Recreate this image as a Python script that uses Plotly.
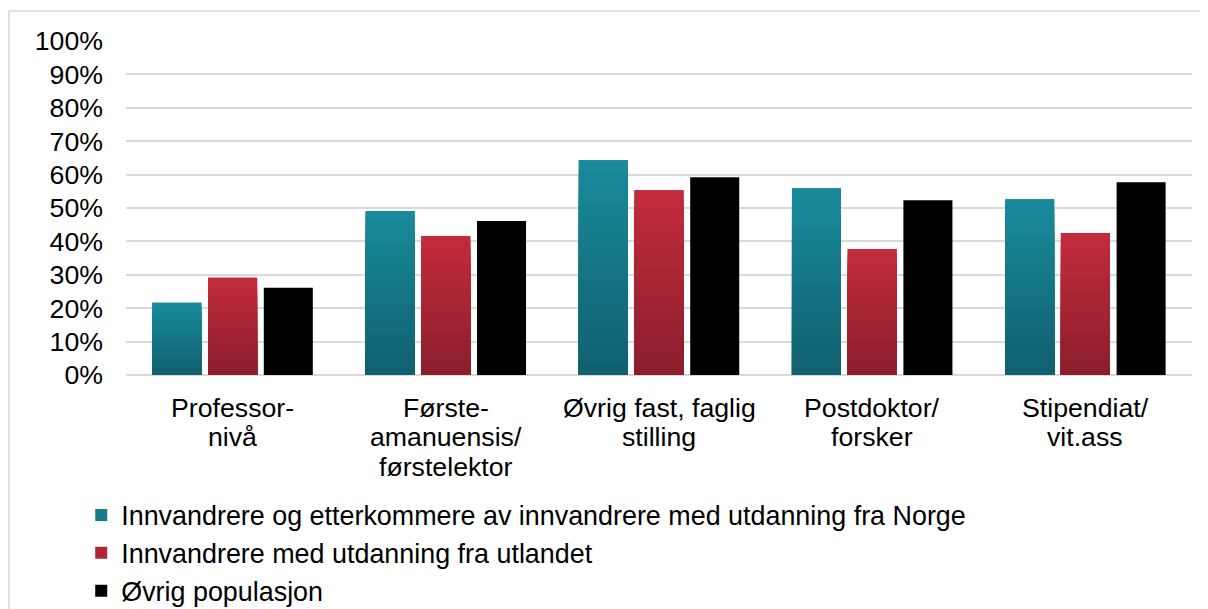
import plotly.graph_objects as go

categories = ["Professor-\nnivå", "Første-\namanuensis/\nførstelektor",
              "Øvrig fast, faglig\nstilling", "Postdoktor/\nforsker", "Stipendiat/\nvit.ass"]
series_names = ["Innvandrere og etterkommere av innvandrere med utdanning fra Norge",
                "Innvandrere med utdanning fra utlandet",
                "Øvrig populasjon"]
norge = [21.6, 49.1, 64.3, 55.9, 52.6]
utland = [29.1, 41.6, 55.3, 37.7, 42.5]
ovrig = [26.1, 46.1, 59.2, 52.3, 57.7]
y_ticks = list(range(0, 101, 10))
y_ticktext = [f"{v}%" for v in y_ticks]

FONT = "Liberation Sans, Arial, sans-serif"
FS = 26.7

def lerp(c1, c2, t):
    return "rgb({},{},{})".format(*[round(a + (b - a) * t) for a, b in zip(c1, c2)])

grad = {
    0: ((24, 138, 154), (17, 96, 112)),
    1: ((194, 43, 60), (140, 30, 44)),
    2: ((0, 0, 0), (0, 0, 0)),
}
series = [norge, utland, ovrig]
xidx = list(range(len(categories)))

fig = go.Figure()
N = 24
for s, (vals, name) in enumerate(zip(series, series_names)):
    top, bot = grad[s]
    steps = N if s < 2 else 1
    for k in range(steps):
        frac = (steps - k) / steps
        t = k / max(steps - 1, 1)
        fig.add_trace(go.Bar(
            x=xidx, y=[v * frac for v in vals], name=name,
            offsetgroup=str(s), legendgroup=str(s), showlegend=(k == 0),
            marker=dict(color=lerp(top, bot, t) if k else lerp(top, bot, 0.35),
                        line=dict(width=0)),
            hoverinfo="skip",
        ))
        if k == 0 and s < 2:
            fig.add_trace(go.Bar(
                x=xidx, y=vals, offsetgroup=str(s), legendgroup=str(s), showlegend=False,
                marker=dict(color=lerp(top, bot, 0), line=dict(width=0)), hoverinfo="skip"))

# category labels, one line per annotation
for i, cat in enumerate(categories):
    for j, line in enumerate(cat.split("\n")):
        fig.add_annotation(x=i, y=0, xref="x", yref="paper", text=line, showarrow=False,
                           yanchor="middle", xanchor="center", yshift=-(33 + 29.3 * j),
                           font=dict(family=FONT, size=FS, color="#000000"))

fig.add_shape(type="rect", xref="paper", yref="paper", x0=-0.1098, x1=1.05,
              y0=-0.72, y1=1.0898, line=dict(color="#d9d9d9", width=1.5), layer="below")

fig.update_layout(
    width=1200, height=601,
    margin=dict(l=118, r=16, t=33, b=234, autoexpand=False),
    paper_bgcolor="white", plot_bgcolor="white",
    barmode="group", bargap=0.216, bargroupgap=0.12,
    font=dict(family=FONT, size=FS, color="#000000"),
    showlegend=True,
    legend=dict(orientation="v", x=-0.042, xanchor="left", y=-0.347, yanchor="top",
                font=dict(family=FONT, size=26.9, color="#000000"),
                bgcolor="rgba(0,0,0,0)", tracegroupgap=0, itemclick=False),
    xaxis=dict(range=[-0.5, len(categories) - 0.5], showticklabels=False,
               showgrid=False, zeroline=False, showline=False, ticks=""),
    yaxis=dict(range=[0, 100], tickmode="array", tickvals=y_ticks, ticktext=y_ticktext,
               showgrid=True, gridcolor="#d9d9d9", gridwidth=1.5,
               zeroline=True, zerolinecolor="#d9d9d9", zerolinewidth=1.5,
               showline=False, ticks="", ticklabelstandoff=22,
               tickfont=dict(family=FONT, size=FS, color="#000000")),
)

fig.write_html("out.html")
